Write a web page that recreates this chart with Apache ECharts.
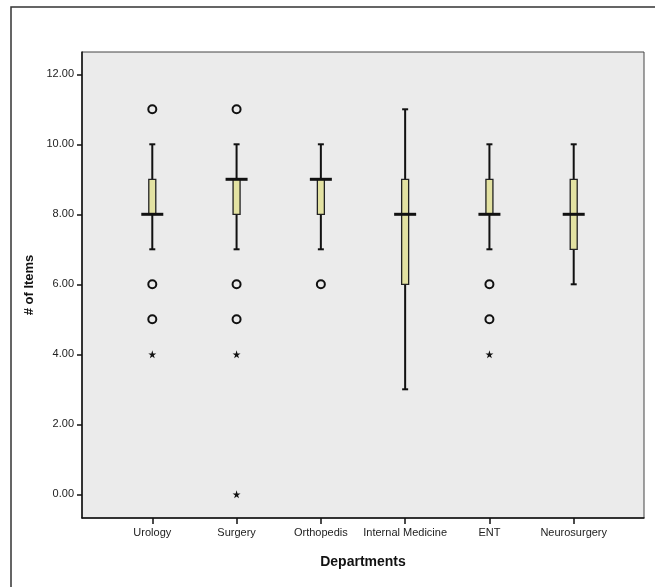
<!DOCTYPE html>
<html><head><meta charset="utf-8">
<script src="https://cdn.jsdelivr.net/npm/echarts@6/dist/echarts.min.js"></script>
<style>html,body{margin:0;padding:0;background:#fff}#c{width:655px;height:587px}</style>
</head><body><div id="c"></div>
<script>
const categories = ['Urology','Surgery','Orthopedis','Internal Medicine','ENT','Neurosurgery'];
const whiskerLow  = [7, 7, 7, 3, 7, 6];
const q1          = [8, 8, 8, 6, 8, 7];
const median      = [8, 9, 9, 8, 8, 8];
const q3          = [9, 9, 9, 9, 9, 9];
const whiskerHigh = [10, 10, 10, 11, 10, 10];
const circleOutliers = [[0,11],[0,6],[0,5],[1,11],[1,6],[1,5],[2,6],[4,6],[4,5]];
const extremeOutliers = [[0,4],[1,4],[1,0],[4,4]];
const yTicks = [0, 2, 4, 6, 8, 10, 12];

const boxData = categories.map((c, i) => [i, whiskerLow[i], q1[i], median[i], q3[i], whiskerHigh[i]]);
const font = 'Liberation Sans, Arial, sans-serif';
const star = 'path://M50,0 L61,35 L98,35 L68,57 L79,91 L50,70 L21,91 L32,57 L2,35 L39,35 Z';

const chart = echarts.init(document.getElementById('c'), null, {renderer: 'canvas'});
chart.setOption({
  animation: false,
  backgroundColor: '#fff',
  graphic: [{
    type: 'rect', z: -1, silent: true,
    shape: {x: 11, y: 7, width: 700, height: 640},
    style: {fill: 'none', stroke: '#333', lineWidth: 1.5}
  }],
  grid: {left: 82, top: 52, right: 11, bottom: 69, show: true,
    backgroundColor: '#ebebeb', borderColor: '#444', borderWidth: 1},
  xAxis: {
    type: 'value', min: -0.834, max: 5.834,
    name: 'Departments', nameLocation: 'middle', nameGap: 37,
    nameTextStyle: {fontFamily: font, fontWeight: 'bold', fontSize: 14, color: '#111'},
    axisLine: {onZero: false, lineStyle: {color: '#111', width: 1.5}},
    axisTick: {show: true, length: 6, lineStyle: {color: '#111', width: 1.5}, customValues: [0,1,2,3,4,5]},
    axisLabel: {customValues: [0,1,2,3,4,5], formatter: v => categories[Math.round(v)],
      fontFamily: font, fontSize: 11, color: '#222', margin: 9},
    splitLine: {show: false}
  },
  yAxis: {
    type: 'value', min: -0.677, max: 12.637,
    name: '# of Items', nameLocation: 'middle', nameGap: 46,
    nameTextStyle: {fontFamily: font, fontWeight: 'bold', fontSize: 13, color: '#111'},
    axisLine: {show: true, onZero: false, lineStyle: {color: '#111', width: 1.5}},
    axisTick: {show: true, length: 5, lineStyle: {color: '#111', width: 1.5}, customValues: yTicks},
    axisLabel: {customValues: yTicks, formatter: v => v.toFixed(2),
      fontFamily: font, fontSize: 11, color: '#222', margin: 8},
    splitLine: {show: false}
  },
  series: [
    {
      type: 'custom',
      data: boxData,
      encode: {x: 0, y: [1,2,3,4,5]},
      renderItem: function (params, api) {
        const x = api.value(0);
        const pLow = api.coord([x, api.value(1)]);
        const pQ1 = api.coord([x, api.value(2)]);
        const pMed = api.coord([x, api.value(3)]);
        const pQ3 = api.coord([x, api.value(4)]);
        const pHigh = api.coord([x, api.value(5)]);
        const cx = pLow[0];
        const boxW = 7, capW = 6, medW = 22;
        return {
          type: 'group',
          children: [
            {type: 'line', shape: {x1: cx, y1: pLow[1], x2: cx, y2: pHigh[1]},
              style: {stroke: '#111', lineWidth: 2}},
            {type: 'line', shape: {x1: cx - capW/2, y1: pLow[1], x2: cx + capW/2, y2: pLow[1]},
              style: {stroke: '#111', lineWidth: 2}},
            {type: 'line', shape: {x1: cx - capW/2, y1: pHigh[1], x2: cx + capW/2, y2: pHigh[1]},
              style: {stroke: '#111', lineWidth: 2}},
            {type: 'rect', shape: {x: cx - boxW/2, y: pQ3[1], width: boxW, height: pQ1[1] - pQ3[1]},
              style: {fill: '#e3e2a2', stroke: '#222', lineWidth: 1.3}},
            {type: 'line', shape: {x1: cx - medW/2, y1: pMed[1], x2: cx + medW/2, y2: pMed[1]},
              style: {stroke: '#111', lineWidth: 3}}
          ]
        };
      }
    },
    {
      type: 'scatter', data: circleOutliers, symbol: 'circle', symbolSize: 8,
      itemStyle: {color: '#ebebeb', borderColor: '#111', borderWidth: 2, opacity: 1}
    },
    {
      type: 'scatter', data: extremeOutliers, symbol: star, symbolSize: 8,
      itemStyle: {color: '#111', opacity: 1}
    }
  ]
});
</script></body></html>
